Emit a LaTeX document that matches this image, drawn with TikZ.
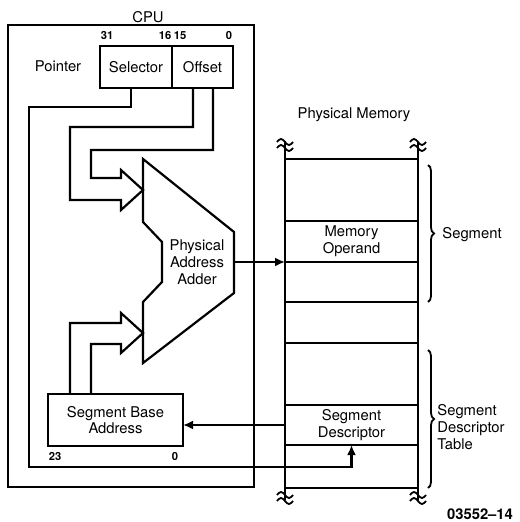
\documentclass[tikz,border=0pt]{standalone}
\usepackage{fontspec}
\setmainfont{TeX Gyre Heros}
\usetikzlibrary{arrows.meta,positioning,calc,decorations.pathreplacing}
\tikzset{
  ln/.style={line width=1.1pt},
  bx/.style={draw,line width=1.1pt,inner sep=0pt,outer sep=0pt,align=center,font=\fontsize{7.4}{8.4}\selectfont},
  ar/.style={line width=1.1pt,-{Latex[length=5pt,width=4.5pt]}},
  lbl/.style={font=\fontsize{7.4}{8.4}\selectfont,align=center,inner sep=0pt},
  bit/.style={font=\fontsize{5.6}{6}\selectfont\bfseries,inner sep=0pt},
  br/.style={decorate,decoration={brace,amplitude=3pt},line width=0.9pt}
}
\begin{document}
\begin{tikzpicture}[x=0.5pt,y=-0.5pt]
\useasboundingbox (0,0) rectangle (519,522);
% CPU
\draw[ln] (8,25) rectangle (254,487);
\node[lbl] (cpu) at (148,17) {CPU};
\node[lbl] (ptr) at (58,66) {Pointer};
\node[bx,minimum width=36pt,minimum height=21pt] (sel) at (136,67) {Selector};
\node[bx,minimum width=30.5pt,minimum height=21pt,right=0pt of sel] (off) {Offset};
\node[bit] (b31) at (107,36) {31};
\node[bit] (b16) at (165,36) {16};
\node[bit] (b15) at (180,36) {15};
\node[bit] (b0) at (229,36) {0};
% adder
\draw[ln] (143,159) -- (234,232) -- (234,293) -- (143,363) -- (143,302)
  -- (162,282) -- (162,242) -- (143,222) -- cycle;
\node[lbl] (add) at (197,262) {Physical\\Address\\Adder};
\coordinate (addout) at (234,262);
% base register
\node[bx,minimum width=67.5pt,minimum height=26pt] (base) at (115.5,420) {Segment Base\\Address};
\node[bit] (b23) at (55,456) {23};
\node[bit] (b00) at (175,456) {0};
% wide arrows into the adder
\draw[ln] (193,88) -- (193,127) -- (70,127) -- (70,200) -- (121,200) -- (121,210)
  -- (143,190) -- (121,170) -- (121,178) -- (91,178) -- (91,150) -- (213,150) -- (213,88);
\draw[ln] (70,394) -- (70,323) -- (121,323) -- (121,313) -- (143,333) -- (121,353)
  -- (121,344) -- (91,344) -- (91,394);
% physical memory
\node[lbl] (pm) at (354,115) {Physical Memory};
\draw[ln] (285,141) -- (285,500) (418,141) -- (418,500);
\foreach \yy in {159,302,343,488}{\draw[ln] (285,\yy) -- (418,\yy);}
\foreach \xx in {285,418}{
  \foreach \yy in {142,495}{
    \draw[line width=0.9pt] (\xx-8,\yy) sin (\xx-4,\yy-3) cos (\xx,\yy) sin (\xx+4,\yy+3) cos (\xx+8,\yy);
    \draw[line width=0.9pt] (\xx-8,\yy+6) sin (\xx-4,\yy+3) cos (\xx,\yy+6) sin (\xx+4,\yy+9) cos (\xx+8,\yy+6);
  }
}
\node[bx,minimum width=66.5pt,minimum height=20.5pt] (mo) at (351.5,241.5) {Memory\\Operand};
\node[bx,minimum width=66.5pt,minimum height=20pt] (sd) at (351.5,425) {Segment\\Descriptor};
% braces
\draw[br] (428,165) -- (428,302);
\draw[br] (428,350) -- (428,488);
\node[lbl,anchor=west] (seg) at (442,235) {Segment};
\node[lbl,anchor=west,align=left] (sdt) at (437,427) {Segment\\Descriptor\\Table};
% connections
\draw[ar] (addout) -- (mo.south west);
\draw[ar] (sd.west) -- (sd.west -| base.east);
\draw[ar] ([xshift=-2.5pt]sel.south) -- ++(0,19) -| (29,467) -| (sd.south);
\node[lbl,font=\fontsize{7.4}{8.4}\selectfont\bfseries] (fig) at (480,514) {03552--14};
\end{tikzpicture}
\end{document}
